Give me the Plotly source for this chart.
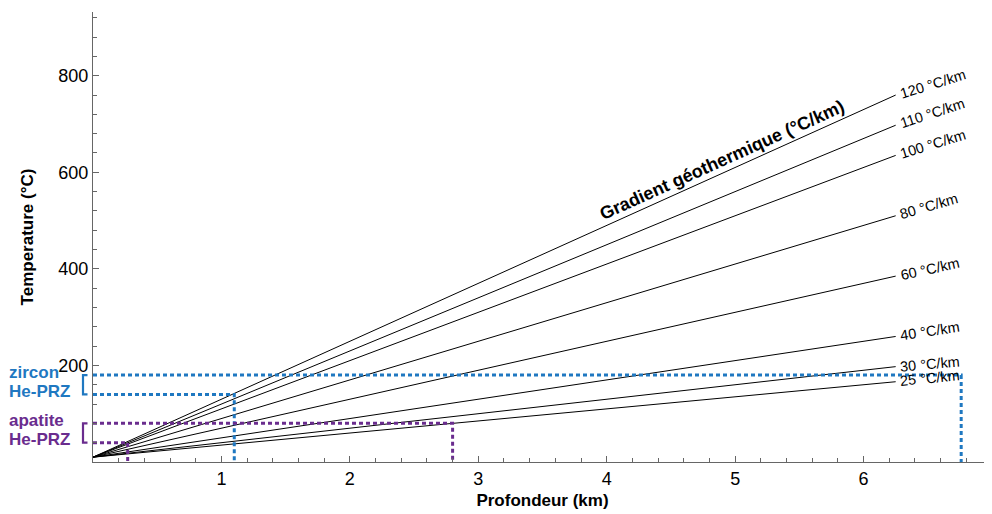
import math
import plotly.graph_objects as go

# ---- data ----
gradients = [25, 30, 40, 60, 80, 100, 110, 120]          # °C/km
gradient_labels = ["25 °C/km", "30 °C/km", "40 °C/km", "60 °C/km",
                   "80 °C/km", "100 °C/km", "110 °C/km", "120 °C/km"]
surface_temp = 10        # °C
depth_max = 6.25         # km (end of gradient lines)

zircon_prz = [140, 180]          # °C
zircon_depths = [1.1, 6.76]      # km
apatite_prz = [40, 80]           # °C
apatite_depths = [0.27, 2.8]     # km

x_ticks = [1, 2, 3, 4, 5, 6, 7]
y_ticks = [200, 400, 600, 800]

# ---- style ----
BLUE = "#1f78c1"
PURPLE = "#6a2c8e"
FONT = "Liberation Sans, Arial, sans-serif"
label_angles = [5.5, 5, 8.5, 12.5, 16, 17, 18, 17]

# page body has an 8px margin: compensate in the figure margins
W, H = 992, 514
ML, MR, MT, MB = 85, 8, 4, 60
XR = [0, 7]
YR = [0, 932]
px_per_x = (W - ML - MR) / (XR[1] - XR[0])
px_per_y = (H - MT - MB) / (YR[1] - YR[0])

fig = go.Figure()

# gradient lines
for g in gradients:
    xs = [0, depth_max]
    ys = [surface_temp, surface_temp + g * depth_max]
    fig.add_trace(go.Scatter(x=xs, y=ys, mode="lines",
                             line=dict(color="black", width=1),
                             hoverinfo="skip", showlegend=False))

# PRZ dotted lines
def prz_lines(temps, depths, color):
    for t, d in zip(temps, depths):
        fig.add_trace(go.Scatter(x=[0, d, d], y=[t, t, 0], mode="lines",
                                 line=dict(color=color, width=3, dash="4px,3px"),
                                 hoverinfo="skip", showlegend=False))

prz_lines(zircon_prz, zircon_depths, BLUE)
prz_lines(apatite_prz, apatite_depths, PURPLE)

# gradient labels
char_w = {"0": .556, "1": .556, "2": .556, "3": .556, "4": .556, "5": .556,
          "6": .556, "8": .556, " ": .278, "°": .4, "C": .722, "/": .278,
          "k": .5, "m": .833}
fs = 14.5
gap = 5
for g, lab, ang in zip(gradients, gradient_labels, label_angles):
    w = sum(char_w.get(c, .556) for c in lab) * fs
    a = math.radians(ang)
    r = gap + w / 2
    fig.add_annotation(x=depth_max, y=surface_temp + g * depth_max,
                       xref="x", yref="y", text=lab, showarrow=False,
                       textangle=-ang, xanchor="center", yanchor="middle",
                       xshift=r * math.cos(a), yshift=r * math.sin(a),
                       font=dict(family=FONT, size=fs, color="black"))

# title along 120 line
gx = 4.9
g_ang = math.degrees(math.atan(120 * px_per_y / px_per_x))
fig.add_annotation(x=gx, y=surface_temp + 120 * gx, xref="x", yref="y",
                   text="<b>Gradient géothermique (°C/km)</b>", showarrow=False,
                   textangle=-g_ang, xanchor="center", yanchor="middle",
                   yshift=13,
                   font=dict(family=FONT, size=18, color="black"))

# left-side PRZ labels and brackets (positions in page px minus 8px body margin)
def px_to_paper(px):
    return (px - 8 - ML) / (W - ML - MR)

for temps, color, words in [(zircon_prz, BLUE, ["zircon", "He-PRZ"]),
                            (apatite_prz, PURPLE, ["apatite", "He-PRZ"])]:
    fig.add_annotation(x=px_to_paper(7), y=temps[1], xref="paper", yref="y",
                       text="<b>%s</b>" % words[0], showarrow=False,
                       xanchor="left", yanchor="middle", yshift=3,
                       font=dict(family=FONT, size=17, color=color))
    fig.add_annotation(x=px_to_paper(7), y=temps[0], xref="paper", yref="y",
                       text="<b>%s</b>" % words[1], showarrow=False,
                       xanchor="left", yanchor="middle", yshift=3,
                       font=dict(family=FONT, size=17, color=color))
    x0 = px_to_paper(83)
    x1 = px_to_paper(87.5)
    fig.add_shape(type="path", xref="paper", yref="y",
                  path="M %f,%f L %f,%f L %f,%f L %f,%f" % (
                      x1, temps[1], x0, temps[1], x0, temps[0], x1, temps[0]),
                  line=dict(color=color, width=2.2))

axis_common = dict(showgrid=False, zeroline=False, showline=True,
                   linecolor="#666666", linewidth=1, ticks="inside",
                   tickcolor="#666666", ticklen=6, tickwidth=1,
                   tickfont=dict(family=FONT, size=18, color="black"),
                   fixedrange=True, automargin=False)

fig.update_xaxes(range=XR, tickmode="array", tickvals=x_ticks,
                 ticktext=[str(v) for v in x_ticks],
                 minor=dict(tickmode="linear", tick0=0, dtick=0.2, ticks="inside",
                            ticklen=4, tickcolor="#666666", showgrid=False),
                 title=dict(text="<b>Profondeur (km)</b>",
                            font=dict(family=FONT, size=17, color="black"),
                            standoff=6),
                 **axis_common)
fig.update_yaxes(range=YR, tickmode="array", tickvals=y_ticks,
                 ticktext=[str(v) for v in y_ticks],
                 minor=dict(tickmode="linear", tick0=0, dtick=40, ticks="inside",
                            ticklen=4, tickcolor="#666666", showgrid=False),
                 title=dict(text="<b>Temperature (°C)</b>",
                            font=dict(family=FONT, size=17, color="black"),
                            standoff=20),
                 **axis_common)

fig.update_layout(width=W, height=H, autosize=False,
                  margin=dict(l=ML, r=MR, t=MT, b=MB, pad=0),
                  plot_bgcolor="white", paper_bgcolor="white",
                  showlegend=False)

fig.write_html("out.html")
